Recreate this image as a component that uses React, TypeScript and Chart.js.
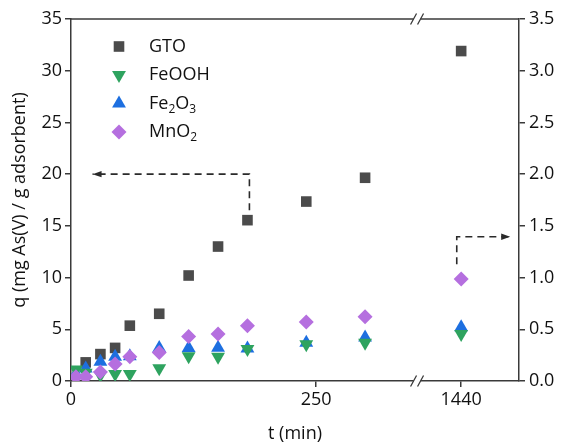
import React, { useEffect, useRef } from "react";
import { Chart, registerables } from "chart.js";

Chart.register(...registerables);

// ---- data ----
const TIMES_GTO = [15, 30, 45, 60, 90, 120, 150, 180, 240, 300, 1440];
const GTO = [1.8, 2.6, 3.2, 5.35, 6.5, 10.2, 13.0, 15.55, 17.35, 19.65, 31.9];
const TIMES = [5, 15, 30, 45, 60, 90, 120, 150, 180, 240, 300, 1440];
const FEOOH = [1.12, 0.8, 0.58, 0.68, 0.68, 1.23, 2.4, 2.35, 3.1, 3.55, 3.7, 4.55];
const FE2O3 = [0.7, 1.22, 1.87, 2.35, 2.4, 3.2, 3.2, 3.22, 3.15, 3.7, 4.2, 5.2];
const MNO2 = [0.4, 0.4, 0.87, 1.65, 2.35, 2.75, 4.3, 4.55, 5.35, 5.7, 6.2, 9.85];

const X_TICKS = [0, 250, 1440];
const Y_MAX = 35;
const Y2_MAX = 3.5;

// broken axis: times before the break are linear, 1440 is placed after the break
const BREAK_AT = 353;
const AFTER_T = 1440;
const AFTER_POS = 398;
const X_MAX = 457;
const axisPos = (t: number) => (t < BREAK_AT ? t : AFTER_POS + (t - AFTER_T) * 0.05);

// dashed arrow annotations in axis units (x-axis position, q) -> arrow tip is the last point
const ARROW_LEFT: [number, number][] = [[182, 16.5], [182, 20], [22, 20]];
const ARROW_RIGHT: [number, number][] = [[393.5, 11.3], [393.5, 13.95], [448, 13.95]];

const AXIS_COLOR = "#3a3a3a";
const TEXT_COLOR = "#111";
const FONT = "'Open Sans', 'DejaVu Sans', sans-serif";

const SERIES = [
  { label: "GTO", parts: [["GTO", false]], color: "#4b4b4b", style: "rect", rot: 0, r: 7.5, times: TIMES_GTO, values: GTO, order: 3 },
  { label: "FeOOH", parts: [["FeOOH", false]], color: "#2ea35f", style: "triangle", rot: 180, r: 8, times: TIMES, values: FEOOH, order: 1 },
  { label: "Fe2O3", parts: [["Fe", false], ["2", true], ["O", false], ["3", true]], color: "#1d6fe0", style: "triangle", rot: 0, r: 8, times: TIMES, values: FE2O3, order: 2 },
  { label: "MnO2", parts: [["MnO", false], ["2", true]], color: "#b56fdf", style: "rectRot", rot: 0, r: 7.5, times: TIMES, values: MNO2, order: 0 },
] as const;

function drawMarker(ctx: CanvasRenderingContext2D, style: string, rot: number, x: number, y: number, r: number, color: string) {
  ctx.save();
  ctx.fillStyle = color;
  ctx.beginPath();
  if (style === "rect") {
    const s = r * Math.SQRT1_2;
    ctx.rect(x - s, y - s, 2 * s, 2 * s);
  } else if (style === "rectRot") {
    ctx.moveTo(x, y - r);
    ctx.lineTo(x + r, y);
    ctx.lineTo(x, y + r);
    ctx.lineTo(x - r, y);
  } else {
    let a = (rot * Math.PI) / 180;
    for (let i = 0; i < 3; i++) {
      const px = x + Math.sin(a) * r;
      const py = y - Math.cos(a) * r;
      if (i === 0) ctx.moveTo(px, py);
      else ctx.lineTo(px, py);
      a += (2 * Math.PI) / 3;
    }
  }
  ctx.closePath();
  ctx.fill();
  ctx.restore();
}

const overlay = {
  id: "overlay",
  afterDraw(chart: any) {
    const ctx: CanvasRenderingContext2D = chart.ctx;
    const { left, right, top, bottom } = chart.chartArea;
    const xs = chart.scales.x;
    const ys = chart.scales.y;
    ctx.save();
    ctx.strokeStyle = AXIS_COLOR;
    ctx.lineWidth = 1.5;
    // top frame line
    ctx.beginPath();
    ctx.moveTo(left, top);
    ctx.lineTo(right, top);
    ctx.stroke();
    // axis breaks
    const bx = xs.getPixelForValue(BREAK_AT);
    for (const y of [top, bottom]) {
      ctx.fillStyle = "#fff";
      ctx.fillRect(bx - 3.5, y - 2, 7, 4);
      ctx.beginPath();
      for (const c of [bx - 3.5, bx + 3.5]) {
        ctx.moveTo(c - 3, y + 5.5);
        ctx.lineTo(c + 3, y - 5.5);
      }
      ctx.lineWidth = 1.3;
      ctx.stroke();
    }
    // dashed arrows
    const drawArrow = (pts: [number, number][]) => {
      const p = pts.map(([xv, q]) => [xs.getPixelForValue(xv), ys.getPixelForValue(q)]);
      ctx.save();
      ctx.strokeStyle = "#2a2a2a";
      ctx.fillStyle = "#2a2a2a";
      ctx.lineWidth = 1.6;
      ctx.setLineDash([7, 5]);
      ctx.beginPath();
      ctx.moveTo(p[0][0], p[0][1]);
      for (let i = 1; i < p.length; i++) ctx.lineTo(p[i][0], p[i][1]);
      ctx.stroke();
      ctx.setLineDash([]);
      const [x1, y1] = p[p.length - 2];
      const [x2, y2] = p[p.length - 1];
      const ang = Math.atan2(y2 - y1, x2 - x1);
      const L = 9, W = 3.2;
      ctx.beginPath();
      ctx.moveTo(x2, y2);
      ctx.lineTo(x2 - L * Math.cos(ang) + W * Math.sin(ang), y2 - L * Math.sin(ang) - W * Math.cos(ang));
      ctx.lineTo(x2 - L * Math.cos(ang) - W * Math.sin(ang), y2 - L * Math.sin(ang) + W * Math.cos(ang));
      ctx.closePath();
      ctx.fill();
      ctx.restore();
    };
    drawArrow(ARROW_LEFT);
    drawArrow(ARROW_RIGHT);
    // legend
    const mx = left + 48;
    const tx = left + 78;
    SERIES.forEach((s, i) => {
      const y = top + 27.5 + i * 28.5;
      drawMarker(ctx, s.style, s.rot, mx, y, s.r, s.color);
      let x = tx;
      ctx.fillStyle = TEXT_COLOR;
      ctx.textAlign = "left";
      ctx.textBaseline = "middle";
      for (const [txt, sub] of s.parts as any) {
        ctx.font = sub ? `12px ${FONT}` : `18px ${FONT}`;
        ctx.fillText(txt, x, sub ? y + 6 : y);
        x += ctx.measureText(txt).width;
      }
    });
    ctx.restore();
  },
};

export default function App() {
  const ref = useRef<HTMLCanvasElement | null>(null);
  useEffect(() => {
    if (!ref.current) return;
    const tickFont = { family: FONT, size: 18 };
    const chart = new Chart(ref.current, {
      type: "scatter",
      data: {
        datasets: SERIES.map((s) => ({
          label: s.label,
          data: s.times.map((t, i) => ({ x: axisPos(t), y: s.values[i] })),
          pointStyle: s.style,
          rotation: s.rot,
          pointRadius: s.r,
          backgroundColor: s.color,
          borderColor: s.color,
          borderWidth: 0,
          order: s.order,
          yAxisID: "y",
        })),
      },
      options: {
        animation: false,
        responsive: false,
        layout: { padding: { top: 19, left: 0, right: 0, bottom: 0 } },
        plugins: { legend: { display: false }, tooltip: { enabled: false } },
        scales: {
          x: {
            type: "linear",
            min: 0,
            max: X_MAX,
            afterBuildTicks: (scale: any) => {
              scale.ticks = X_TICKS.map((t) => ({ value: axisPos(t) }));
            },
            afterFit: (scale: any) => {
              scale.height = 64;
            },
            ticks: {
              font: tickFont,
              color: TEXT_COLOR,
              padding: 2,
              maxRotation: 0,
              callback: (v: any) => {
                const idx = X_TICKS.findIndex((t) => Math.abs(axisPos(t) - v) < 0.5);
                return idx >= 0 ? String(X_TICKS[idx]) : "";
              },
            },
            grid: { drawOnChartArea: false, drawTicks: true, tickLength: 6, color: AXIS_COLOR, lineWidth: 1.5 },
            border: { display: true, color: AXIS_COLOR, width: 1.5 },
            title: { display: true, text: "t (min)", font: tickFont, color: TEXT_COLOR, padding: { top: 0, bottom: 0 } },
          },
          y: {
            position: "left",
            min: 0,
            max: Y_MAX,
            afterFit: (scale: any) => {
              scale.width = 71;
            },
            ticks: { stepSize: 5, font: tickFont, color: TEXT_COLOR, padding: 3 },
            grid: { drawOnChartArea: false, drawTicks: true, tickLength: 6, color: AXIS_COLOR, lineWidth: 1.5 },
            border: { display: true, color: AXIS_COLOR, width: 1.5 },
            title: {
              display: true,
              text: "q (mg As(V) / g adsorbent)",
              font: tickFont,
              color: TEXT_COLOR,
              padding: { top: 9, bottom: 0 },
            },
          },
          y2: {
            position: "right",
            min: 0,
            max: Y2_MAX,
            afterFit: (scale: any) => {
              scale.width = 42;
            },
            ticks: { stepSize: 0.5, font: tickFont, color: TEXT_COLOR, padding: 4, callback: (v: any) => Number(v).toFixed(1) },
            grid: { drawOnChartArea: false, drawTicks: true, tickLength: 6, color: AXIS_COLOR, lineWidth: 1.5 },
            border: { display: true, color: AXIS_COLOR, width: 1.5 },
          },
        },
      } as any,
      plugins: [overlay],
    });
    return () => chart.destroy();
  }, []);
  return (
    <div style={{ position: "fixed", left: 0, top: 0, width: 561, height: 445, background: "#fff" }}>
      <canvas ref={ref} width={561} height={445} style={{ display: "block" }} />
    </div>
  );
}
